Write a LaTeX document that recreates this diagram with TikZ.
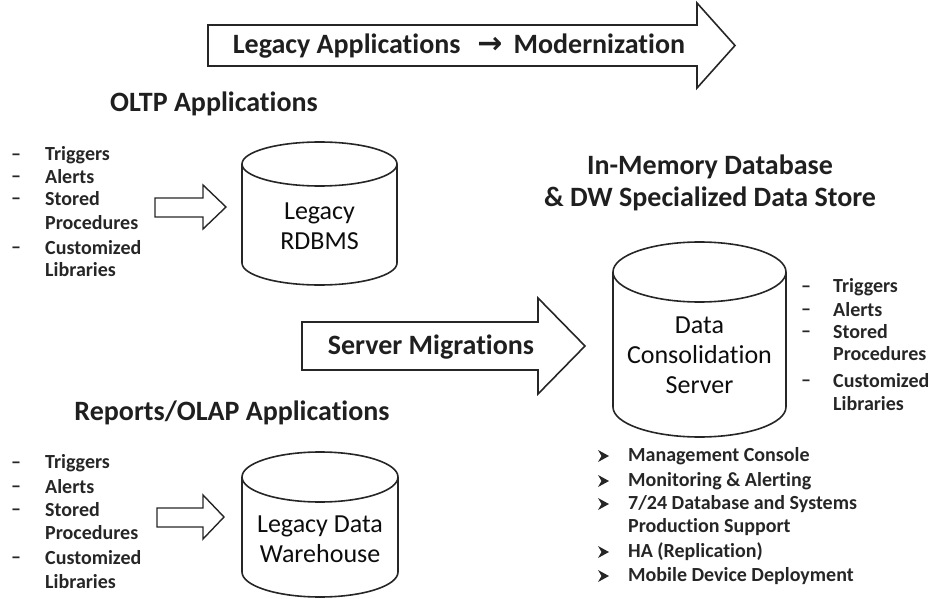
\documentclass[tikz,border=0pt]{standalone}
\usepackage{fontspec}
\setmainfont{Carlito}[Ligatures=NoCommon]
\newfontfamily\dejavu{DejaVu Sans}
\usetikzlibrary{calc}
\tikzset{
  outline/.style={draw=black!85, line width=1.6pt, line join=miter},
  title/.style={font=\fontsize{28}{32}\selectfont\bfseries, text=black!88, inner sep=0pt},
  cyltext/.style={font=\fontsize{26}{30}\selectfont, text=black!95, align=center, inner sep=0pt},
  item/.style={font=\fontsize{20}{22}\selectfont\bfseries, text=black!85, anchor=west, inner sep=0pt},
  dashitem/.style={font=\fontsize{20}{22}\selectfont\bfseries, text=black!85, anchor=west, inner sep=0pt},
}
\begin{document}
\begin{tikzpicture}[x=1pt,y=-1pt]
\useasboundingbox (0,0) rectangle (929,599);
% top arrow
\draw[outline] (208,25) -- (697,25) -- (697,3) -- (735,45.5) -- (697,88) -- (697,66) -- (208,66) -- cycle;
\node[title] (top) at (459,46) {Legacy Applications\hspace{0.6em}{\dejavu\bfseries\fontsize{30}{32}\selectfont →}\hspace{0.4em}Modernization};
% titles
\node[title] (oltp) at (214,104) {OLTP Applications};
\node[title] (olap) at (232,413) {Reports/OLAP Applications};
\node[title] (imdb) at (710,167) {In-Memory Database};
\node[title] (dw) at (710,199) {\& DW Specialized Data Store};
% cylinder 1
\draw[outline] (319.5,164) ellipse[x radius=77.5pt, y radius=22pt];
\draw[outline] (242,164) -- (242,263) arc[start angle=180,end angle=360,x radius=77.5pt,y radius=22pt] -- (397,164);
\node[cyltext] (rdbms) at (319.5,226) {Legacy\\RDBMS};
% cylinder 2
\draw[outline] (699.5,272) ellipse[x radius=86.5pt, y radius=30pt];
\draw[outline] (613,272) -- (613,407) arc[start angle=180,end angle=360,x radius=86.5pt,y radius=30pt] -- (786,272);
\node[cyltext] (dcs) at (699.5,355) {Data\\Consolidation\\Server};
% cylinder 3
\draw[outline] (320,477) ellipse[x radius=78pt, y radius=25pt];
\draw[outline] (242,477) -- (242,572) arc[start angle=180,end angle=360,x radius=78pt,y radius=25pt] -- (398,477);
\node[cyltext] (dwh) at (320,539) {Legacy Data\\Warehouse};
% middle arrow
\draw[outline] (302,322) -- (538,322) -- (538,298) -- (585,346) -- (538,394) -- (538,370) -- (302,370) -- cycle;
\node[title] (mig) at (431,347) {Server Migrations};
% small arrows
\draw[outline, line width=1.4pt] (155,198) -- (203,198) -- (203,185) -- (226,207) -- (203,229) -- (203,217) -- (155,217) -- cycle;
\draw[outline, line width=1.4pt] (157,508) -- (203,508) -- (203,495) -- (224,517) -- (203,539) -- (203,527) -- (157,527) -- cycle;
% left list 1
\foreach \t/\y/\d [count=\i] in {Triggers/155/1, Alerts/177/1, Stored/199/1, Procedures/223/0, Customized/248/1, Libraries/270/0}{
  \node[item] (la\i) at (45,\y) {\t};
  \ifnum\d=1 \node[dashitem] (lad\i) at (11,{\y+2}) {--};\fi
}
% left list 2
\foreach \t/\y/\d [count=\i] in {Triggers/463/1, Alerts/487/1, Stored/510/1, Procedures/533/0, Customized/558/1, Libraries/582/0}{
  \node[item] (lb\i) at (45,\y) {\t};
  \ifnum\d=1 \node[dashitem] (lbd\i) at (11,{\y+2}) {--};\fi
}
% right list
\foreach \t/\y/\d [count=\i] in {Triggers/287/1, Alerts/310/1, Stored/332/1, Procedures/354/0, Customized/381/1, Libraries/404/0}{
  \node[item] (rl\i) at (833,\y) {\t};
  \ifnum\d=1 \node[dashitem] (rld\i) at (801,{\y+2}) {--};\fi
}
% bottom list
\foreach \t/\y/\d [count=\i] in {Management Console/456/1, Monitoring \& Alerting/481/1, {7/24 Database and Systems}/504/1, Production Support/527/0, HA (Replication)/552/1, Mobile Device Deployment/576/1}{
  \node[item] (bl\i) at (628,\y) {\t};
  \ifnum\d=1 \fill[black!85] (598,{\y-6}) -- (609,\y) -- (598,{\y+6}) -- (601.5,\y) -- cycle;\fi
}
\end{tikzpicture}
\end{document}
